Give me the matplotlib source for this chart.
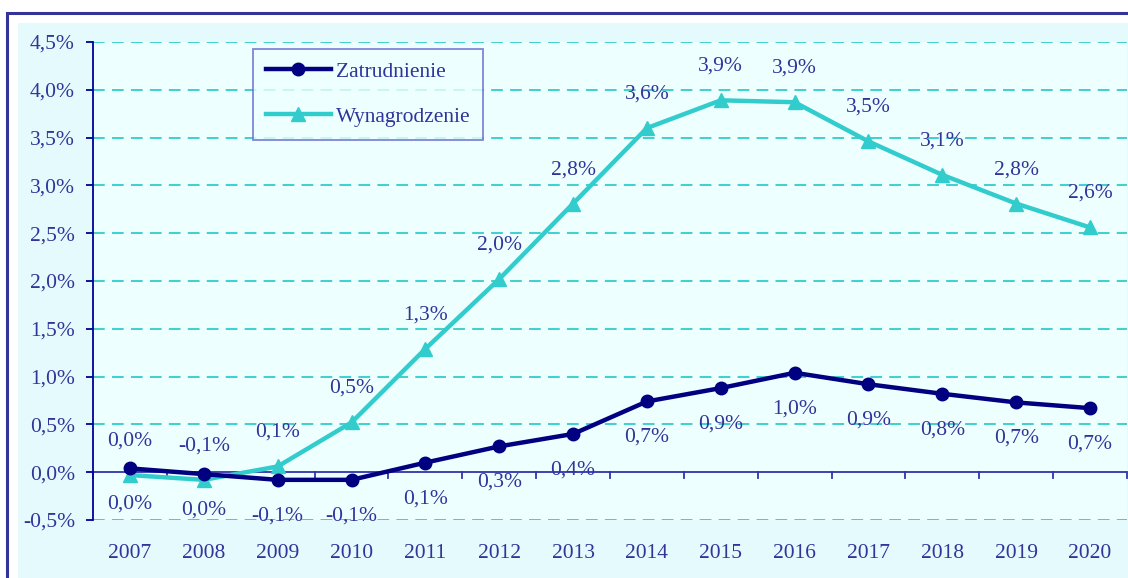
import matplotlib
matplotlib.use("Agg")
import matplotlib.pyplot as plt
from matplotlib.patches import Rectangle
import numpy as np

years = ["2007", "2008", "2009", "2010", "2011", "2012", "2013",
         "2014", "2015", "2016", "2017", "2018", "2019", "2020"]
zatrudnienie = [0.04, -0.02, -0.08, -0.08, 0.10, 0.27, 0.40,
                0.74, 0.88, 1.04, 0.92, 0.82, 0.73, 0.67]
wynagrodzenie = [-0.03, -0.08, 0.06, 0.52, 1.29, 2.02, 2.81,
                 3.60, 3.89, 3.87, 3.46, 3.11, 2.81, 2.56]
yticks = [-0.5, 0.0, 0.5, 1.0, 1.5, 2.0, 2.5, 3.0, 3.5, 4.0, 4.5]

TXT = "#333399"
NAVY = "#000080"
TURQ = "#33CCCC"
FONT = "Liberation Serif"
FS = 15.5

plt.rcParams['font.family'] = [FONT, 'DejaVu Serif']

W, H = 1128, 578
fig = plt.figure(figsize=(W / 100, H / 100), dpi=100)
fig.patch.set_facecolor("white")

def fx(px):
    return px / W

def fy(py):
    return 1 - py / H

# outer frame
fig.patches.append(Rectangle((fx(7), fy(H + 20)), fx(W + 20), fy(12.5) - fy(H + 20),
                             transform=fig.transFigure, facecolor="white",
                             edgecolor="#333399", lw=2.2, zorder=-2))
# chart area
fig.patches.append(Rectangle((fx(18), fy(H + 5)), fx(W + 10), fy(23) - fy(H + 5),
                             transform=fig.transFigure, facecolor="#E4FAFD",
                             edgecolor="none", zorder=-1))

ax = fig.add_axes([fx(93), fy(520), fx(1127) - fx(93), fy(42) - fy(520)])
ax.set_zorder(2)
ax.set_facecolor("#EEFFFF")

x = np.arange(len(years))
ax.set_xlim(-0.5, len(years) - 0.5)
ax.set_ylim(-0.5, 4.5)

# gridlines
for yv in yticks:
    if yv != 0:
        ax.axhline(yv, color=TURQ, lw=1.3, ls=(0, (6.5, 4)), zorder=1)
ax.axhline(0, color="#3333AA", lw=1.3, zorder=2)
# category separators on the zero axis
for b in np.arange(-0.5, len(years), 1.0):
    ax.plot([b, b], [0, -0.065], color="#3333AA", lw=1.3, zorder=2, clip_on=False)

ln1, = ax.plot(x, zatrudnienie, color=NAVY, lw=3.2, marker="o", markersize=9,
               zorder=4, label="Zatrudnienie")
ln2, = ax.plot(x, wynagrodzenie, color=TURQ, lw=3.2, marker="^", markersize=10.5,
               zorder=3, label="Wynagrodzenie")

def fmt(v):
    s = f"{v:.1f}"
    if s == "-0.0":
        s = "0.0"
    return s.replace(".", ",") + "%"

for xi, v in zip(x, wynagrodzenie):
    ax.annotate(fmt(v), (xi, v), xytext=(0, 34), textcoords="offset pixels",
                ha="center", va="center", fontsize=FS, color=TXT, zorder=5)
for xi, v in zip(x, zatrudnienie):
    ax.annotate(fmt(v), (xi, v), xytext=(0, -36), textcoords="offset pixels",
                ha="center", va="center", fontsize=FS, color=TXT, zorder=5)

for s in ["top", "right", "bottom"]:
    ax.spines[s].set_visible(False)
ax.spines["left"].set_color("#000099")
ax.spines["left"].set_linewidth(1.3)

ax.set_yticks(yticks)
ax.set_yticklabels([fmt(v) for v in yticks])
ax.tick_params(axis="y", colors="#000099", labelcolor=TXT, length=5, width=1.3,
               labelsize=FS, pad=8)
ax.set_xticks(x)
ax.set_xticklabels(years)
ax.tick_params(axis="x", length=0, labelsize=FS, labelcolor=TXT, pad=17)

leg = ax.legend(handles=[ln1, ln2], loc="upper left",
                bbox_to_anchor=(fx(253), fy(49)), bbox_transform=fig.transFigure,
                fontsize=FS, frameon=True, fancybox=False, borderpad=0.6,
                labelspacing=1.15, handlelength=3.0, handletextpad=0.25,
                borderaxespad=0, labelcolor=TXT)
leg.get_frame().set_edgecolor("#6666CC")
leg.get_frame().set_linewidth(1.3)
leg.get_frame().set_facecolor("#EEFFFF")
leg.set_zorder(6)

fig.savefig("out.png", dpi=100)
